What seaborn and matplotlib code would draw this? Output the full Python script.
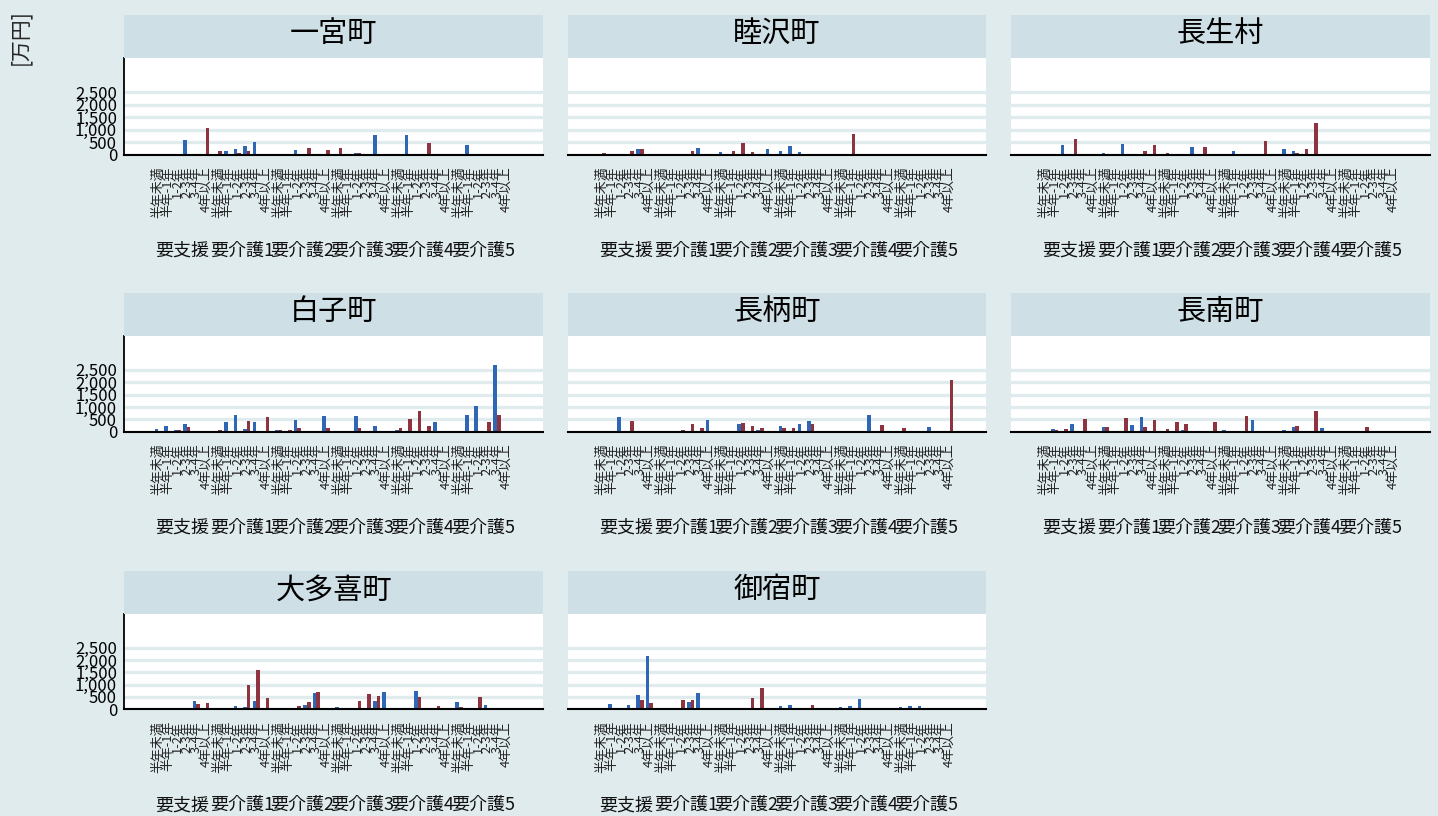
import numpy as np
import pandas as pd
import matplotlib
matplotlib.use("Agg")
import matplotlib.pyplot as plt
import seaborn as sns

# town names (panel order)
towns = ["一宮町", "睦沢町", "長生村", "白子町", "長柄町", "長南町", "大多喜町", "御宿町"]

# care levels (outer groups) and durations (inner categories)
levels = ["要支援", "要介護1", "要介護2", "要介護3", "要介護4", "要介護5"]
durations = ["半年未満", "半年-1年", "1-2年", "2-3年", "3-4年", "4年以上"]

# values [万円], 6 durations for each of the 6 levels, blue series
blue_ichinomiya = [0, 0, 0, 600, 0, 0,  0, 160, 215, 360, 500, 0,  0, 0, 175, 0, 0, 0,
                   0, 0, 80, 0, 770, 0,  40, 770, 0, 0, 0, 0,  0, 400, 0, 0, 0, 0]
red_ichinomiya = [0, 0, 0, 0, 0, 1050,  130, 0, 80, 130, 0, 0,  40, 0, 40, 280, 0, 175,
                  260, 0, 55, 0, 0, 0,  0, 0, 0, 480, 0, 0,  0, 40, 0, 0, 0, 0]

blue_mutsuzawa = [0, 0, 0, 0, 215, 0,  0, 0, 0, 0, 255, 0,  95, 0, 0, 0, 0, 215,
                  150, 335, 110, 0, 0, 0,  0, 0, 0, 0, 0, 0,  0, 0, 0, 0, 0, 0]
red_mutsuzawa = [55, 0, 0, 135, 215, 0,  0, 0, 0, 135, 0, 0,  0, 135, 455, 95, 0, 0,
                 0, 0, 0, 0, 0, 0,  0, 820, 0, 0, 0, 0,  0, 0, 0, 0, 0, 0]

blue_chosei = [0, 0, 365, 0, 0, 0,  55, 0, 415, 0, 0, 0,  0, 0, 0, 295, 0, 0,
               0, 135, 0, 0, 0, 0,  215, 135, 0, 0, 0, 0,  0, 0, 0, 0, 0, 0]
red_chosei = [40, 0, 0, 620, 0, 0,  0, 0, 0, 0, 135, 375,  55, 0, 0, 0, 295, 0,
              40, 0, 0, 0, 540, 0,  40, 55, 215, 1260, 0, 0,  40, 0, 0, 0, 0, 0]

blue_shirako = [110, 230, 80, 310, 0, 0,  0, 390, 670, 110, 390, 0,  80, 0, 470, 0, 0, 630,
                0, 0, 630, 0, 240, 0,  65, 0, 0, 0, 390, 0,  25, 670, 1035, 0, 2690, 0]
red_shirako = [0, 40, 55, 200, 0, 0,  55, 0, 0, 430, 0, 590,  65, 65, 150, 0, 0, 150,
               0, 0, 150, 0, 0, 0,  150, 525, 835, 230, 0, 0,  25, 0, 0, 390, 670, 0]

blue_nagara = [0, 0, 590, 0, 0, 0,  0, 0, 0, 0, 0, 470,  0, 0, 310, 0, 65, 0,
               230, 0, 310, 430, 0, 0,  0, 0, 0, 670, 0, 0,  0, 0, 0, 190, 0, 0]
red_nagara = [0, 0, 0, 430, 0, 0,  0, 0, 65, 310, 150, 0,  0, 0, 350, 230, 150, 0,
              150, 150, 0, 310, 40, 0,  40, 0, 0, 0, 270, 0,  150, 0, 0, 0, 0, 2080]

blue_chonan = [0, 110, 0, 310, 0, 0,  190, 0, 40, 270, 590, 0,  40, 0, 65, 0, 0, 0,
               65, 0, 0, 470, 0, 0,  65, 190, 0, 0, 150, 0,  0, 0, 0, 0, 0, 0]
red_chonan = [0, 65, 110, 0, 510, 0,  190, 0, 550, 0, 190, 470,  110, 390, 310, 0, 0, 390,
              0, 0, 645, 0, 0, 0,  40, 240, 0, 845, 0, 0,  0, 0, 190, 0, 0, 0]

blue_otaki = [0, 0, 0, 0, 350, 0,  0, 0, 135, 95, 350, 0,  0, 0, 0, 175, 660, 0,
              95, 0, 0, 0, 335, 700,  0, 20, 740, 0, 0, 0,  295, 20, 0, 175, 0, 0]
red_otaki = [0, 0, 0, 40, 215, 255,  0, 0, 0, 980, 1585, 455,  0, 0, 135, 295, 700, 0,
             0, 0, 335, 620, 540, 0,  40, 0, 495, 0, 135, 0,  95, 0, 495, 0, 0, 0]

blue_onjuku = [55, 215, 55, 175, 580, 2150,  0, 0, 0, 295, 660, 0,  55, 0, 55, 0, 0, 0,
               135, 175, 0, 0, 0, 0,  95, 135, 415, 0, 0, 0,  95, 135, 135, 0, 0, 0]
red_onjuku = [0, 0, 55, 0, 375, 255,  55, 0, 375, 375, 0, 0,  30, 0, 0, 455, 860, 0,
              30, 0, 0, 175, 0, 0,  0, 0, 55, 0, 0, 0,  40, 0, 0, 0, 0, 0]

blue_values = [blue_ichinomiya, blue_mutsuzawa, blue_chosei, blue_shirako,
               blue_nagara, blue_chonan, blue_otaki, blue_onjuku]
red_values = [red_ichinomiya, red_mutsuzawa, red_chosei, red_shirako,
              red_nagara, red_chonan, red_otaki, red_onjuku]

yticks = [0, 500, 1000, 1500, 2000, 2500]
ytick_labels = ["0", "500", "1,000", "1,500", "2,000", "2,500"]

# ---- build long table ----
GAP = 0.35  # extra space between level groups (in category units)
rows_ = []
for t, town in enumerate(towns):
    for s, (name, vals) in enumerate([("blue", blue_values[t]), ("red", red_values[t])]):
        for k, v in enumerate(vals):
            g, i = divmod(k, 6)
            rows_.append({"town": town, "level": levels[g], "duration": durations[i],
                          "series": name, "value": v, "pos": g * (6 + GAP) + i})
df = pd.DataFrame(rows_)

# ---- style ----
sns.set_style("white")
plt.rcParams["font.family"] = ["Noto Sans CJK JP", "DejaVu Sans"]

bg = "#e0ebee"
strip_c = "#cedfe5"
grid_c = "#e0ebee"
colors = {"blue": "#3067b5", "red": "#8e3440"}

W, H = 1438, 816
fig = plt.figure(figsize=(W / 100, H / 100), dpi=100, facecolor=bg)


def rect(x0, y0, x1, y1):
    return [x0 / W, 1 - y1 / H, (x1 - x0) / W, (y1 - y0) / H]


cols = [(124, 543), (568, 986), (1011, 1430)]
rowsy = [(58, 154.5), (336, 431.7), (614, 709.3)]
strip_h = 43

positions = sorted(df["pos"].unique())
group_centers = [g * (6 + GAP) + 2.5 for g in range(6)]

for k, town in enumerate(towns):
    r, c = divmod(k, 3)
    x0, x1 = cols[c]
    y0, y1 = rowsy[r]
    ax = fig.add_axes(rect(x0, y0, x1, y1))
    sax = fig.add_axes(rect(x0, y0 - strip_h, x1, y0))

    d = df[df["town"] == town]
    sns.barplot(data=d, x="pos", y="value", hue="series", native_scale=True,
                palette=colors, width=0.76, saturation=1, errorbar=None,
                legend=False, linewidth=0, edgecolor="none", ax=ax)

    ax.set_facecolor("white")
    ax.set_xlim(-3.61, 40.61)
    ax.set_ylim(0, 3870)
    ax.set_yticks(yticks)
    ax.yaxis.grid(True, color=grid_c, lw=2.4)
    ax.set_axisbelow(True)
    for sp in ["top", "right"]:
        ax.spines[sp].set_visible(False)
    ax.spines["bottom"].set_color("black")
    ax.spines["bottom"].set_linewidth(1.5)
    if c == 0:
        ax.spines["left"].set_color("black")
        ax.spines["left"].set_linewidth(1.3)
        ax.set_yticklabels(ytick_labels, fontsize=12)
        ax.tick_params(axis="y", length=4, width=1, pad=1, colors="black")
    else:
        ax.spines["left"].set_visible(False)
        ax.set_yticklabels([])
        ax.tick_params(axis="y", length=0)

    ax.set_xticks(positions)
    ax.set_xticklabels(durations * 6, rotation=90, fontsize=9.3, color="#222222")
    ax.tick_params(axis="x", length=0, pad=8.5)
    ax.set_xlabel("")
    ax.set_ylabel("")

    for g, lev in enumerate(levels):
        ax.annotate(lev, xy=(group_centers[g], 0), xycoords=("data", "axes fraction"),
                    xytext=(0, -69), textcoords="offset points",
                    ha="center", va="center", fontsize=13, color="#111111")

    sax.set_facecolor(strip_c)
    sax.set_xticks([])
    sax.set_yticks([])
    for sp in sax.spines.values():
        sp.set_visible(False)
    sax.text(0.5, 0.55, town, ha="center", va="center", fontsize=21, color="black",
             transform=sax.transAxes)

fig.text(20 / W, 1 - 37 / H, "[万円]", rotation=90, ha="center", va="center", fontsize=15)

fig.savefig("out.png", dpi=100, facecolor=bg)
